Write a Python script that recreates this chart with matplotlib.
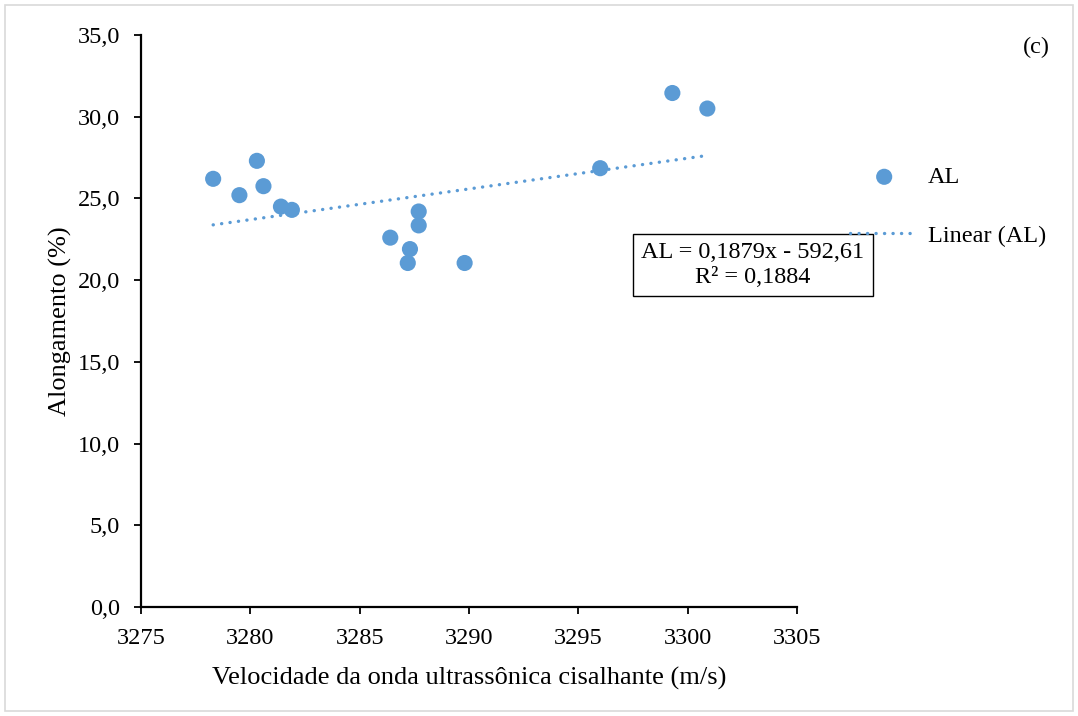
import matplotlib
matplotlib.use("Agg")
import matplotlib.pyplot as plt
from matplotlib.patches import Rectangle
import numpy as np

plt.rcParams['font.family'] = ['Liberation Serif', 'DejaVu Serif']

velocity = [3278.3, 3280.3, 3279.5, 3280.6, 3281.4, 3281.9, 3287.7, 3287.7,
            3286.4, 3287.3, 3287.2, 3289.8, 3299.3, 3300.9, 3296.0]
elongation = [26.2, 27.3, 25.2, 25.75, 24.5, 24.3, 24.2, 23.35,
              22.6, 21.9, 21.05, 21.05, 31.45, 30.5, 26.85]
slope = 0.1879
intercept = -592.61
eq_text = "AL = 0,1879x - 592,61\nR² = 0,1884"
xticks = [3275, 3280, 3285, 3290, 3295, 3300, 3305]
yticks = [0, 5, 10, 15, 20, 25, 30, 35]

color = '#5B9BD5'
FS = 19
TFS = 17.5
W, H = 1078, 716
fig = plt.figure(figsize=(W/100, H/100), dpi=100)
ax = fig.add_axes([141/W, 1-607/H, (797-141)/W, (607-35)/H])

ax.scatter(velocity, elongation, s=135, color=color, edgecolors='none', zorder=3, label='AL')
xs = np.array([min(velocity), max(velocity)])
ax.plot(xs, slope*xs + intercept, color=color, lw=2.4, linestyle=(0, (0.05, 2.5)),
        dash_capstyle='round', label='Linear (AL)', zorder=2)

ax.set_xlim(3275, 3305)
ax.set_ylim(0, 35)
ax.set_xticks(xticks)
ax.set_xticklabels([str(t) for t in xticks])
ax.set_yticks(yticks)
ax.set_yticklabels([f"{t:.1f}".replace('.', ',') for t in yticks])
for s in ['top', 'right']:
    ax.spines[s].set_visible(False)
for s in ['left', 'bottom']:
    ax.spines[s].set_linewidth(1.6)
ax.tick_params(axis='both', direction='out', length=5, width=1.3, labelsize=TFS)
ax.tick_params(axis='y', pad=10)
ax.tick_params(axis='x', pad=10)

ax.set_xlabel("Velocidade da onda ultrassônica cisalhante (m/s)", fontsize=FS, labelpad=13)
ax.set_ylabel("Alongamento (%)", fontsize=FS, labelpad=4)

leg = fig.legend(loc='upper left', bbox_to_anchor=(838/W, 1-154/H), frameon=False,
                 fontsize=TFS, handlelength=2.8, labelspacing=1.5, borderpad=0, handletextpad=0.4)

fig.text(753/W, 1-265/H, eq_text, ha='center', va='center', fontsize=TFS, linespacing=1.2,
         bbox=dict(boxstyle='square,pad=0.35', facecolor='white', edgecolor='black', lw=1))

fig.text(1050/W, 1-47/H, "(c)", ha='right', va='center', fontsize=TFS)

fig.patches.append(Rectangle((5/W, 5/H), 1-10/W, 1-10/H, transform=fig.transFigure,
                             fill=False, edgecolor='#D9D9D9', lw=1.2))

fig.savefig("out.png", dpi=100)
